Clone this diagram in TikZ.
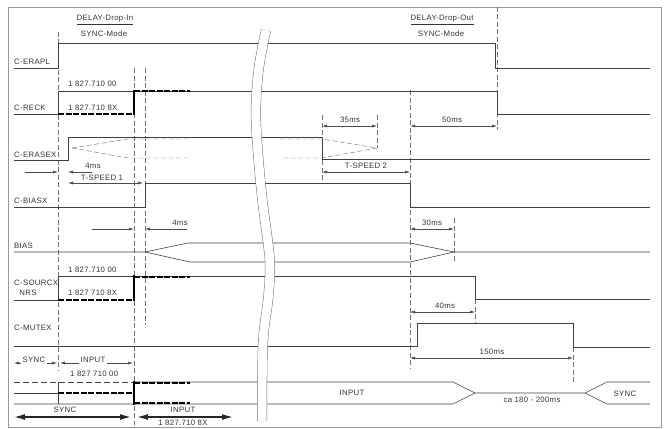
\documentclass[tikz,border=0pt]{standalone}
\usepackage{fontspec}
\setmainfont{Liberation Sans}
\newfontfamily\lblfont[LetterSpace=4]{Liberation Sans}
\usetikzlibrary{arrows.meta}
\begin{document}
\begin{tikzpicture}[x=1pt,y=-1pt,
  sig/.style={draw=black!75, line width=0.6pt},
  guide/.style={draw=black!55, line width=0.45pt, dash pattern=on 5pt off 2.5pt},
  thickd/.style={draw=black, line width=1.8pt, dash pattern=on 6pt off 1.5pt},
  thicks/.style={draw=black, line width=1.8pt},
  dim/.style={draw=black!70, line width=0.5pt, {Latex[length=5pt,width=3pt]}-{Latex[length=5pt,width=3pt]}},
  dimr/.style={draw=black!70, line width=0.5pt, -{Latex[length=5pt,width=3pt]}},
  bigarr/.style={draw=black!85, line width=1.4pt, {Latex[length=11pt,width=6pt]}-{Latex[length=11pt,width=6pt]}},
  lbl/.style={font=\lblfont\fontsize{7.8}{9}\selectfont, text=black!80, inner sep=0pt},
  wlbl/.style={lbl, fill=white, inner xsep=1.5pt, inner ysep=1pt},
]
\useasboundingbox (0,0) rectangle (668,428);
% frame
\draw[black!40, line width=0.5pt] (8,7) rectangle (661,427);

% guide lines
\draw[guide] (58,32) -- (58,370);
\draw[guide] (134,68) -- (134,425);
\draw[guide] (145,68) -- (145,325);
\draw[guide] (410,90) -- (410,368);
\draw[guide] (497,7) -- (497,130);
\draw[guide] (322,115) -- (322,180);
\draw[guide] (377,115) -- (377,148);
\draw[guide] (454,218) -- (454,262);
\draw[guide] (475,299) -- (475,322);
\draw[guide] (573,347) -- (573,382);

% C-ERAPL
\draw[sig] (14,68) -- (58,68) -- (58,43) -- (495,43) -- (495,68) -- (650,68);
% C-RECK
\draw[sig] (14,114) -- (58,114) -- (58,91) -- (497,91) -- (497,114) -- (650,114);
\draw[thickd] (58,114) -- (133,114);
\draw[thicks] (134,115) -- (134,90);
\draw[thickd] (134,91) -- (190,91);
% C-ERASEX
\draw[sig] (14,160) -- (68,160) -- (68,137) -- (322,137) -- (322,159) -- (650,159);
\draw[guide] (72,148) -- (128,139) -- (190,139);
\draw[guide] (72,148) -- (128,158) -- (190,158);
\draw[guide] (280,139) -- (322,139) -- (377,148) -- (322,158) -- (280,158);
% C-BIASX
\draw[sig] (14,207) -- (145,207) -- (145,183) -- (410,183) -- (410,207) -- (650,207);
% BIAS
\draw[sig] (14,252) -- (145,252) -- (188,243) -- (410,243) -- (454,252) -- (650,252);
\draw[sig] (145,252) -- (190,262) -- (410,262) -- (454,252);
% C-SOURCX
\draw[sig] (14,300) -- (58,300) -- (58,276) -- (475,276) -- (475,299) -- (650,299);
\draw[thickd] (58,300) -- (133,300);
\draw[thicks] (134,301) -- (134,275);
\draw[thickd] (134,277) -- (190,277);
% C-MUTEX
\draw[sig] (14,346) -- (417,346) -- (417,323) -- (573,323) -- (573,347) -- (650,347);
% bus
\draw[sig, dash pattern=on 6pt off 3pt] (14,382) -- (134,382);
\draw[sig] (14,393) -- (58,393);
\draw[sig] (58,382) -- (58,404);
\draw[sig] (14,404) -- (453,404) -- (475,393) -- (585,393) -- (607,382) -- (650,382);
\draw[sig] (134,382) -- (453,382) -- (475,393);
\draw[sig] (585,393) -- (607,404) -- (650,404);
\draw[thickd] (58,393) -- (133,393);
\draw[thicks] (134,381) -- (134,405);
\draw[thickd] (134,383) -- (190,383);
\draw[thickd] (134,403) -- (190,403);

% squiggle break
\draw[black!55, line width=0.5pt, double=white, double distance=9pt]
  plot[smooth, tension=0.6] coordinates {(266,30) (259,67) (256,105) (257,140) (262,197) (268,243) (270,268) (268,300) (263,343) (262,421)};

% dimensions
\draw[dimr] (25,172) -- (58,172);
\draw[dimr] (92,172) -- (68,172);
\node[lbl] (d4a) at (93,166) {4ms};
\draw[dim] (68,183) -- (143,183);
\node[lbl] (ts1) at (102,178) {T-SPEED 1};
\draw[dim] (322,126) -- (377,126);
\node[lbl] (d35) at (350,120) {35ms};
\draw[dim] (410,126) -- (497,126);
\node[lbl] (d50) at (452,120) {50ms};
\draw[dim] (322,172) -- (410,172);
\node[lbl] (ts2) at (366,166) {T-SPEED 2};
\draw[dimr] (92,229) -- (134,229);
\draw[dimr] (187,229) -- (145,229);
\node[lbl] (d4b) at (180,223) {4ms};
\draw[dim] (410,229) -- (454,229);
\node[lbl] (d30) at (432,223) {30ms};
\draw[dim] (410,312) -- (475,312);
\node[lbl] (d40) at (445,306) {40ms};
\draw[dim] (410,358) -- (573,358);
\node[lbl] (d150) at (492,352) {150ms};
\draw[dim] (14,363) -- (57,363);
\node[wlbl] (ssync) at (34,360) {SYNC};
\draw[dim] (60,363) -- (133,363);
\node[wlbl] (sinput) at (93,360) {INPUT};
\draw[bigarr] (14,417) -- (131,417);
\node[lbl] (bsync) at (65,410) {SYNC};
\draw[bigarr] (137,417) -- (233,417);
\node[lbl] (binput) at (183,410) {INPUT};
\node[lbl] (bnum) at (183,423) {1 827.710 8X};

% header labels
\node[lbl] (dropin) at (105,20) {\underline{DELAY-Drop-In}};
\node[lbl] (syncin) at (104,34) {SYNC-Mode};
\node[lbl] (dropout) at (442,20) {\underline{DELAY-Drop-Out}};
\node[lbl] (syncout) at (441,34) {SYNC-Mode};

% signal names
\node[lbl, anchor=west] (nerapl) at (14,62) {C-ERAPL};
\node[lbl, anchor=west] (nreck) at (14,108) {C-RECK};
\node[lbl, anchor=west] (nerase) at (14,155) {C-ERASEX};
\node[lbl, anchor=west] (nbiasx) at (14,201) {C-BIASX};
\node[lbl, anchor=west] (nbias) at (14,246) {BIAS};
\node[lbl, anchor=west] (nsrc) at (14,283) {C-SOURCX};
\node[lbl] (nnrs) at (28,293) {NRS};
\node[lbl, anchor=west] (nmute) at (14,328) {C-MUTEX};

% numbers
\node[lbl, anchor=west] (r1) at (68,84) {1 827.710 00};
\node[lbl, anchor=west] (r2) at (68,108) {1 827.710 8X};
\node[lbl, anchor=west] (s1) at (68,270) {1 827.710 00};
\node[lbl, anchor=west] (s2) at (68,293) {1 827 710 8X};
\node[lbl, anchor=west] (b1) at (70,374) {1 827 710 00};

% bus labels
\node[lbl] (binp) at (352,393) {INPUT};
\node[lbl] (bca) at (532,400) {ca 180 - 200ms};
\node[lbl] (bsy) at (625,394) {SYNC};
\end{tikzpicture}
\end{document}
